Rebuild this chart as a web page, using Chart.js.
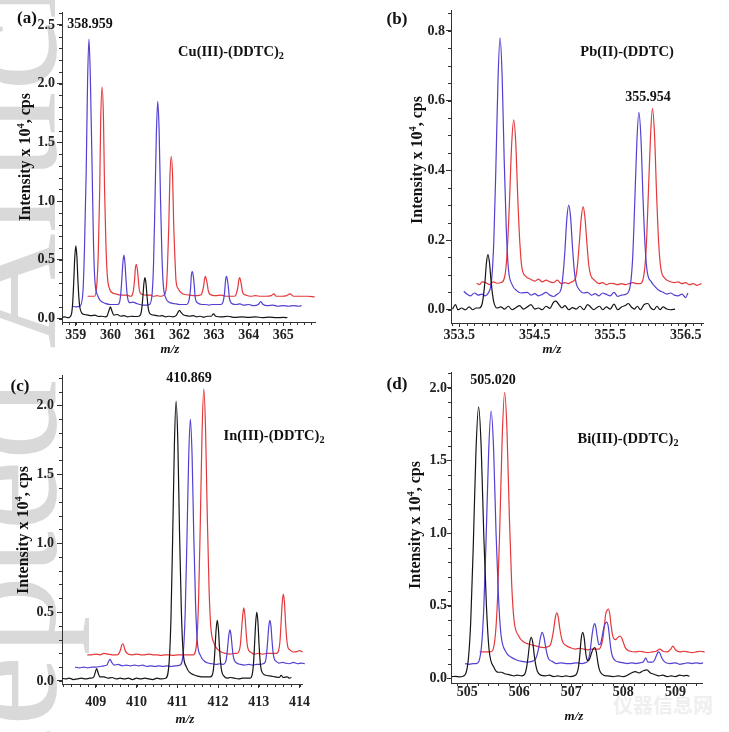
<!DOCTYPE html>
<html>
<head>
<meta charset="utf-8">
<script src="https://cdn.jsdelivr.net/npm/chart.js@4.4.1/dist/chart.umd.min.js"></script>
<style>
  body { margin: 0; background: #fff; }
  #page { position: relative; width: 729px; height: 732px; overflow: hidden; font-family: 'Liberation Serif', 'Times New Roman', serif; font-weight: bold; color: #111; }
  canvas { position: absolute; }
  .txt { position: absolute; transform: translate(-50%, -50%); white-space: nowrap; line-height: 1; }
  .tag { font-size: 17px; }
  .num { font-size: 14px; }
  .cmp { font-size: 14.5px; }
  .cmp sub { font-size: 0.7em; vertical-align: -0.3em; line-height: 0; }
  .ytitle { position: absolute; transform: translate(-50%, -50%) rotate(-90deg); white-space: nowrap; font-size: 16px; line-height: 1; }
  .ytitle sup { font-size: 0.65em; vertical-align: 0.55em; line-height: 0; }
  .xtitle { font-size: 13px; font-style: italic; }
  #wm { position: absolute; left: 0; top: 0; transform-origin: 0 0; transform: translate(-79px, 984px) rotate(-90deg); font-size: 160px; line-height: 1; color: #d9d9d9; font-weight: normal; white-space: nowrap; }
  #logo { position: absolute; left: 613px; top: 690px; font-family: 'Noto Sans CJK SC', sans-serif; font-size: 20px; color: #efefef; white-space: nowrap; }
</style>
</head>
<body>
<div id="page">
  <div id="wm">Accepted Article</div>
  <div id="logo">仪器信息网</div>

  <canvas id="chartA" width="364" height="362" style="left:0;top:0"></canvas>
  <canvas id="chartB" width="364" height="362" style="left:365px;top:0"></canvas>
  <canvas id="chartC" width="364" height="370" style="left:0;top:362px"></canvas>
  <canvas id="chartD" width="364" height="370" style="left:365px;top:362px"></canvas>

  <div class="txt tag" style="left:27px;top:17px">(a)</div>
  <div class="txt num" style="left:90px;top:24px">358.959</div>
  <div class="txt cmp" style="left:231px;top:51px">Cu(III)-(DDTC)<sub>2</sub></div>
  <div class="ytitle" style="left:25px;top:157px">Intensity x 10<sup>4</sup>, cps</div>
  <div class="txt xtitle" style="left:170px;top:348px">m/z</div>

  <div class="txt tag" style="left:397px;top:18px">(b)</div>
  <div class="txt cmp" style="left:627px;top:51px">Pb(II)-(DDTC)</div>
  <div class="txt num" style="left:648px;top:97px">355.954</div>
  <div class="ytitle" style="left:417px;top:160px">Intensity x 10<sup>4</sup>, cps</div>
  <div class="txt xtitle" style="left:552px;top:348px">m/z</div>

  <div class="txt tag" style="left:20px;top:385px">(c)</div>
  <div class="txt num" style="left:189px;top:378px">410.869</div>
  <div class="txt cmp" style="left:274px;top:435px">In(III)-(DDTC)<sub>2</sub></div>
  <div class="ytitle" style="left:23px;top:530px">Intensity x 10<sup>4</sup>, cps</div>
  <div class="txt xtitle" style="left:185px;top:718px">m/z</div>

  <div class="txt tag" style="left:397px;top:383px">(d)</div>
  <div class="txt num" style="left:493px;top:380px">505.020</div>
  <div class="txt cmp" style="left:628px;top:438px">Bi(III)-(DDTC)<sub>2</sub></div>
  <div class="ytitle" style="left:415px;top:525px">Intensity x 10<sup>4</sup>, cps</div>
  <div class="txt xtitle" style="left:574px;top:715px">m/z</div>
</div>

<script>
// spectra, [m/z, intensity x 10^4 cps]
const cuBlack = [[358.60,0.01],[358.68,0.015],[358.76,0.008],[358.82,0.012],[358.88,0.047],[358.91,0.138],[358.94,0.315],[358.97,0.522],[359.00,0.62],[359.03,0.53],[359.06,0.33],[359.09,0.17],[359.12,0.09],[359.18,0.045],[359.25,0.035],[359.35,0.03],[359.45,0.025],[359.55,0.03],[359.65,0.018],[359.75,0.02],[359.85,0.015],[359.90,0.02],[359.95,0.06],[360.00,0.10],[360.05,0.06],[360.10,0.03],[360.20,0.035],[360.30,0.02],[360.40,0.025],[360.50,0.015],[360.60,0.02],[360.70,0.018],[360.82,0.02],[360.88,0.04],[360.91,0.09],[360.94,0.185],[360.97,0.3],[361.00,0.35],[361.03,0.3],[361.06,0.19],[361.09,0.1],[361.12,0.055],[361.18,0.035],[361.30,0.028],[361.40,0.022],[361.50,0.025],[361.60,0.015],[361.70,0.02],[361.80,0.015],[361.90,0.025],[361.95,0.05],[362.00,0.07],[362.05,0.05],[362.12,0.03],[362.20,0.025],[362.30,0.02],[362.40,0.025],[362.50,0.015],[362.60,0.02],[362.70,0.012],[362.80,0.02],[362.92,0.02],[362.98,0.04],[363.05,0.02],[363.20,0.015],[363.40,0.02],[363.60,0.01],[363.80,0.015],[364.00,0.01],[364.20,0.015],[364.40,0.008],[364.60,0.012],[364.80,0.008],[365.00,0.01],[365.12,0.008]];
const cuBlue = [[358.90,0.105],[359.00,0.10],[359.13,0.11],[359.21,0.25],[359.25,0.59],[359.30,1.25],[359.34,2.02],[359.38,2.38],[359.42,2.05],[359.47,1.3],[359.51,0.66],[359.55,0.33],[359.64,0.19],[359.72,0.15],[359.85,0.13],[360.00,0.12],[360.12,0.12],[360.21,0.12],[360.27,0.145],[360.30,0.21],[360.33,0.33],[360.36,0.47],[360.39,0.54],[360.42,0.48],[360.45,0.34],[360.48,0.22],[360.51,0.16],[360.57,0.135],[360.65,0.14],[360.75,0.13],[360.85,0.12],[360.95,0.115],[361.05,0.115],[361.13,0.12],[361.21,0.22],[361.25,0.48],[361.29,0.99],[361.33,1.57],[361.37,1.85],[361.41,1.6],[361.45,1.02],[361.49,0.55],[361.53,0.29],[361.61,0.17],[361.70,0.14],[361.80,0.13],[361.90,0.125],[362.00,0.12],[362.10,0.12],[362.21,0.12],[362.26,0.14],[362.29,0.18],[362.32,0.26],[362.34,0.36],[362.37,0.40],[362.40,0.36],[362.43,0.27],[362.45,0.19],[362.48,0.15],[362.54,0.13],[362.65,0.12],[362.75,0.12],[362.85,0.115],[362.95,0.12],[363.05,0.12],[363.20,0.12],[363.25,0.135],[363.28,0.17],[363.31,0.24],[363.33,0.32],[363.36,0.36],[363.39,0.32],[363.42,0.25],[363.44,0.18],[363.47,0.145],[363.53,0.125],[363.65,0.12],[363.75,0.125],[363.85,0.115],[364.00,0.12],[364.15,0.11],[364.28,0.12],[364.35,0.145],[364.42,0.12],[364.55,0.11],[364.70,0.115],[364.85,0.105],[365.00,0.11],[365.15,0.105],[365.30,0.11],[365.45,0.105],[365.53,0.11]];
const cuRed = [[359.34,0.19],[359.45,0.19],[359.54,0.19],[359.61,0.3],[359.65,0.56],[359.69,1.08],[359.72,1.69],[359.76,1.97],[359.80,1.7],[359.83,1.12],[359.87,0.64],[359.91,0.37],[359.98,0.25],[360.06,0.22],[360.15,0.21],[360.30,0.2],[360.45,0.2],[360.59,0.19],[360.64,0.205],[360.67,0.25],[360.70,0.33],[360.72,0.42],[360.75,0.46],[360.78,0.42],[360.81,0.33],[360.83,0.26],[360.86,0.22],[360.93,0.205],[361.05,0.2],[361.15,0.2],[361.25,0.19],[361.35,0.195],[361.45,0.19],[361.55,0.2],[361.62,0.27],[361.65,0.43],[361.69,0.79],[361.72,1.19],[361.76,1.38],[361.80,1.21],[361.83,0.82],[361.87,0.5],[361.90,0.32],[361.97,0.25],[362.05,0.22],[362.15,0.205],[362.30,0.2],[362.45,0.195],[362.59,0.2],[362.64,0.21],[362.67,0.24],[362.70,0.28],[362.72,0.33],[362.75,0.36],[362.78,0.33],[362.81,0.28],[362.83,0.24],[362.86,0.215],[362.93,0.2],[363.05,0.195],[363.20,0.2],[363.35,0.19],[363.58,0.19],[363.63,0.2],[363.66,0.23],[363.69,0.27],[363.71,0.32],[363.74,0.35],[363.77,0.32],[363.80,0.27],[363.82,0.23],[363.85,0.21],[363.92,0.2],[364.05,0.19],[364.20,0.195],[364.35,0.19],[364.50,0.19],[364.65,0.195],[364.73,0.21],[364.80,0.19],[364.95,0.19],[365.10,0.195],[365.20,0.21],[365.30,0.19],[365.50,0.19],[365.70,0.19],[365.91,0.185]];

const pbBlack = [[353.41,0.002],[353.45,0.015],[353.48,0.0],[353.53,0.005],[353.58,0.0],[353.63,0.008],[353.68,0.0],[353.72,0.005],[353.76,0.005],[353.80,0.015],[353.82,0.04],[353.84,0.08],[353.86,0.135],[353.88,0.158],[353.90,0.135],[353.92,0.085],[353.94,0.045],[353.96,0.02],[354.00,0.005],[354.05,0.008],[354.10,0.002],[354.15,0.01],[354.20,0.0],[354.25,0.006],[354.30,0.012],[354.35,0.002],[354.40,0.008],[354.45,0.015],[354.50,0.002],[354.55,0.005],[354.60,0.0],[354.65,0.01],[354.70,0.004],[354.75,0.022],[354.78,0.025],[354.82,0.015],[354.86,0.005],[354.90,0.012],[354.95,0.0],[355.00,0.006],[355.05,0.002],[355.10,0.01],[355.15,0.0],[355.20,0.015],[355.24,0.008],[355.28,0.0],[355.32,0.006],[355.36,0.01],[355.40,0.0],[355.45,0.008],[355.50,0.002],[355.55,0.016],[355.60,0.0],[355.65,0.008],[355.70,0.012],[355.74,0.018],[355.78,0.008],[355.82,0.002],[355.86,0.01],[355.90,0.0],[355.95,0.015],[356.00,0.018],[356.04,0.005],[356.08,0.0],[356.12,0.01],[356.16,0.0],[356.20,0.008],[356.25,0.002],[356.30,0.0],[356.36,0.002]];
const pbBlue = [[353.56,0.053],[353.60,0.045],[353.65,0.04],[353.70,0.048],[353.75,0.042],[353.80,0.045],[353.84,0.04],[353.875,0.045],[353.93,0.09],[353.958,0.2],[353.985,0.41],[354.013,0.66],[354.04,0.78],[354.068,0.67],[354.095,0.43],[354.123,0.23],[354.15,0.12],[354.205,0.07],[354.26,0.055],[354.32,0.048],[354.40,0.05],[354.45,0.042],[354.50,0.046],[354.55,0.04],[354.60,0.044],[354.65,0.05],[354.70,0.042],[354.75,0.038],[354.80,0.045],[354.85,0.06],[354.875,0.1],[354.90,0.17],[354.925,0.26],[354.95,0.30],[354.975,0.265],[355.00,0.18],[355.025,0.11],[355.05,0.075],[355.10,0.055],[355.15,0.048],[355.20,0.05],[355.25,0.042],[355.30,0.046],[355.35,0.04],[355.40,0.048],[355.45,0.044],[355.50,0.04],[355.55,0.05],[355.60,0.038],[355.65,0.042],[355.715,0.045],[355.77,0.075],[355.798,0.15],[355.825,0.305],[355.853,0.48],[355.88,0.566],[355.908,0.49],[355.935,0.32],[355.963,0.18],[355.99,0.11],[356.045,0.08],[356.10,0.065],[356.15,0.055],[356.20,0.05],[356.25,0.045],[356.30,0.048],[356.35,0.042],[356.40,0.04],[356.45,0.045],[356.50,0.035],[356.53,0.048]];
const pbRed = [[353.73,0.076],[353.77,0.072],[353.80,0.08],[353.85,0.078],[353.90,0.072],[353.95,0.08],[354.00,0.076],[354.055,0.078],[354.11,0.105],[354.138,0.18],[354.165,0.31],[354.193,0.47],[354.22,0.545],[354.248,0.48],[354.275,0.32],[354.303,0.19],[354.33,0.12],[354.385,0.095],[354.44,0.088],[354.50,0.082],[354.55,0.088],[354.60,0.08],[354.65,0.085],[354.70,0.08],[354.75,0.078],[354.80,0.085],[354.85,0.075],[354.90,0.078],[354.94,0.075],[354.99,0.08],[355.04,0.09],[355.065,0.125],[355.09,0.19],[355.115,0.26],[355.14,0.296],[355.165,0.265],[355.19,0.195],[355.215,0.13],[355.24,0.1],[355.29,0.085],[355.35,0.075],[355.40,0.078],[355.45,0.072],[355.50,0.076],[355.55,0.075],[355.60,0.072],[355.65,0.075],[355.70,0.072],[355.75,0.075],[355.80,0.078],[355.85,0.075],[355.895,0.075],[355.95,0.105],[355.978,0.18],[356.005,0.33],[356.033,0.49],[356.06,0.578],[356.088,0.5],[356.115,0.33],[356.143,0.19],[356.17,0.12],[356.225,0.09],[356.28,0.082],[356.35,0.078],[356.40,0.08],[356.45,0.075],[356.50,0.078],[356.55,0.072],[356.60,0.075],[356.65,0.07],[356.71,0.075]];

const inBlack = [[408.17,0.02],[408.25,0.015],[408.35,0.02],[408.45,0.01],[408.55,0.015],[408.65,0.02],[408.75,0.015],[408.85,0.02],[408.94,0.025],[408.98,0.055],[409.02,0.09],[409.06,0.055],[409.10,0.03],[409.20,0.03],[409.30,0.02],[409.40,0.025],[409.50,0.015],[409.60,0.02],[409.70,0.015],[409.80,0.02],[409.90,0.01],[410.00,0.02],[410.10,0.015],[410.20,0.02],[410.30,0.015],[410.40,0.01],[410.50,0.02],[410.60,0.015],[410.715,0.02],[410.80,0.14],[410.843,0.44],[410.885,1.03],[410.928,1.71],[410.97,2.03],[411.013,1.73],[411.055,1.07],[411.098,0.52],[411.14,0.22],[411.225,0.1],[411.31,0.06],[411.40,0.045],[411.50,0.035],[411.60,0.03],[411.70,0.03],[411.815,0.03],[411.87,0.055],[411.898,0.115],[411.925,0.235],[411.953,0.375],[411.98,0.44],[412.008,0.38],[412.035,0.24],[412.063,0.13],[412.09,0.07],[412.145,0.035],[412.22,0.02],[412.30,0.025],[412.40,0.02],[412.50,0.015],[412.60,0.02],[412.70,0.02],[412.785,0.02],[412.84,0.05],[412.868,0.12],[412.895,0.26],[412.923,0.42],[412.95,0.5],[412.978,0.43],[413.005,0.27],[413.033,0.14],[413.06,0.08],[413.115,0.05],[413.20,0.04],[413.30,0.035],[413.40,0.03],[413.50,0.025],[413.55,0.04],[413.60,0.025],[413.70,0.03],[413.75,0.02],[413.80,0.025]];
const inBlue = [[408.49,0.10],[408.60,0.095],[408.70,0.1],[408.80,0.095],[408.90,0.1],[409.00,0.1],[409.10,0.105],[409.20,0.11],[409.27,0.115],[409.31,0.14],[409.35,0.157],[409.39,0.135],[409.45,0.115],[409.55,0.12],[409.65,0.11],[409.75,0.115],[409.85,0.11],[409.95,0.115],[410.05,0.11],[410.15,0.115],[410.25,0.105],[410.35,0.11],[410.45,0.105],[410.55,0.11],[410.65,0.105],[410.75,0.11],[410.85,0.105],[410.95,0.11],[411.065,0.115],[411.15,0.22],[411.193,0.49],[411.235,1.01],[411.278,1.61],[411.32,1.9],[411.363,1.63],[411.405,1.04],[411.448,0.56],[411.49,0.29],[411.575,0.18],[411.66,0.145],[411.75,0.13],[411.85,0.125],[411.95,0.12],[412.05,0.125],[412.125,0.12],[412.18,0.135],[412.208,0.17],[412.235,0.245],[412.263,0.33],[412.29,0.37],[412.318,0.335],[412.345,0.25],[412.373,0.18],[412.40,0.15],[412.455,0.13],[412.55,0.12],[412.65,0.115],[412.75,0.12],[412.85,0.115],[412.95,0.12],[413.02,0.12],[413.105,0.125],[413.16,0.14],[413.188,0.19],[413.215,0.28],[413.243,0.39],[413.27,0.44],[413.298,0.4],[413.325,0.29],[413.353,0.2],[413.38,0.16],[413.435,0.14],[413.50,0.13],[413.58,0.135],[413.65,0.13],[413.75,0.125],[413.85,0.135],[413.95,0.125],[414.05,0.13],[414.13,0.125]];
const inRed = [[408.79,0.19],[408.90,0.19],[409.00,0.195],[409.10,0.19],[409.20,0.2],[409.30,0.195],[409.40,0.19],[409.525,0.19],[409.57,0.2],[409.61,0.23],[409.635,0.26],[409.66,0.27],[409.685,0.26],[409.71,0.23],[409.75,0.205],[409.80,0.195],[409.90,0.19],[410.00,0.195],[410.10,0.19],[410.20,0.19],[410.30,0.195],[410.40,0.19],[410.50,0.19],[410.60,0.185],[410.70,0.19],[410.80,0.19],[410.90,0.185],[411.00,0.19],[411.10,0.19],[411.20,0.19],[411.30,0.19],[411.395,0.19],[411.48,0.3],[411.523,0.6],[411.565,1.16],[411.608,1.81],[411.65,2.12],[411.693,1.83],[411.735,1.2],[411.778,0.68],[411.82,0.4],[411.905,0.27],[411.99,0.23],[412.08,0.21],[412.18,0.2],[412.30,0.195],[412.40,0.2],[412.465,0.2],[412.52,0.22],[412.548,0.265],[412.575,0.365],[412.603,0.47],[412.63,0.53],[412.658,0.48],[412.685,0.37],[412.713,0.27],[412.74,0.23],[412.795,0.21],[412.90,0.195],[413.00,0.2],[413.10,0.195],[413.20,0.2],[413.30,0.2],[413.435,0.2],[413.49,0.225],[413.518,0.285],[413.545,0.415],[413.573,0.56],[413.60,0.63],[413.628,0.575],[413.655,0.43],[413.683,0.31],[413.71,0.25],[413.765,0.225],[413.85,0.21],[413.95,0.215],[414.00,0.22],[414.08,0.21],[414.15,0.225],[414.22,0.21],[414.30,0.215],[414.38,0.205],[414.43,0.23],[414.48,0.21]];

const biBlack = [[504.71,0.01],[504.78,0.012],[504.85,0.008],[504.92,0.012],[505.02,0.12],[505.07,0.4],[505.12,0.94],[505.17,1.57],[505.22,1.87],[505.27,1.59],[505.32,0.98],[505.37,0.5],[505.42,0.2],[505.52,0.07],[505.60,0.04],[505.66,0.04],[505.72,0.03],[505.78,0.025],[505.84,0.02],[505.90,0.015],[505.96,0.02],[506.05,0.015],[506.11,0.03],[506.14,0.07],[506.17,0.145],[506.20,0.24],[506.23,0.28],[506.26,0.245],[506.29,0.155],[506.32,0.085],[506.35,0.045],[506.41,0.02],[506.50,0.015],[506.58,0.02],[506.66,0.01],[506.74,0.015],[506.82,0.01],[506.90,0.015],[506.98,0.01],[507.05,0.015],[507.11,0.035],[507.14,0.08],[507.165,0.165],[507.19,0.27],[507.22,0.315],[507.25,0.27],[507.275,0.18],[507.30,0.13],[507.33,0.12],[507.36,0.14],[507.39,0.175],[507.42,0.2],[507.45,0.21],[507.48,0.18],[507.505,0.12],[507.53,0.07],[507.56,0.04],[507.62,0.02],[507.70,0.015],[507.80,0.01],[507.90,0.015],[508.00,0.01],[508.08,0.02],[508.15,0.035],[508.23,0.045],[508.30,0.035],[508.38,0.05],[508.45,0.057],[508.52,0.035],[508.60,0.025],[508.68,0.015],[508.76,0.02],[508.84,0.01],[508.92,0.015],[509.00,0.01],[509.08,0.02],[509.15,0.015],[509.22,0.018],[509.27,0.012]];
const biBlue = [[504.96,0.10],[505.04,0.095],[505.12,0.1],[505.175,0.1],[505.27,0.2],[505.318,0.47],[505.365,0.97],[505.413,1.56],[505.46,1.84],[505.508,1.58],[505.555,1.0],[505.603,0.55],[505.65,0.3],[505.745,0.18],[505.84,0.145],[505.95,0.125],[506.05,0.115],[506.15,0.11],[506.245,0.115],[506.31,0.13],[506.343,0.16],[506.375,0.21],[506.408,0.28],[506.44,0.315],[506.473,0.285],[506.505,0.22],[506.538,0.16],[506.57,0.13],[506.635,0.115],[506.72,0.1],[506.80,0.105],[506.90,0.1],[507.00,0.1],[507.10,0.105],[507.20,0.1],[507.26,0.105],[507.32,0.12],[507.35,0.16],[507.37,0.21],[507.40,0.3],[507.425,0.355],[507.45,0.375],[507.475,0.345],[507.50,0.28],[507.53,0.23],[507.56,0.235],[507.59,0.28],[507.62,0.34],[507.65,0.375],[507.68,0.385],[507.71,0.355],[507.735,0.28],[507.76,0.2],[507.79,0.15],[507.845,0.12],[507.92,0.11],[508.00,0.105],[508.08,0.1],[508.16,0.105],[508.24,0.1],[508.32,0.105],[508.38,0.11],[508.43,0.14],[508.47,0.11],[508.56,0.11],[508.60,0.125],[508.635,0.155],[508.66,0.175],[508.68,0.18],[508.705,0.17],[508.73,0.145],[508.77,0.12],[508.82,0.105],[508.90,0.1],[509.00,0.105],[509.08,0.095],[509.16,0.1],[509.24,0.105],[509.32,0.1],[509.40,0.105],[509.48,0.1],[509.53,0.105]];
const biRed = [[505.24,0.18],[505.32,0.18],[505.40,0.18],[505.45,0.18],[505.54,0.29],[505.585,0.56],[505.63,1.08],[505.675,1.68],[505.72,1.97],[505.765,1.71],[505.81,1.12],[505.855,0.65],[505.90,0.4],[505.99,0.29],[506.08,0.25],[506.18,0.235],[506.28,0.225],[506.38,0.215],[506.48,0.21],[506.54,0.215],[506.60,0.23],[506.63,0.27],[506.66,0.33],[506.69,0.41],[506.72,0.45],[506.75,0.42],[506.78,0.34],[506.81,0.28],[506.84,0.245],[506.90,0.225],[506.98,0.21],[507.08,0.2],[507.16,0.205],[507.24,0.2],[507.32,0.195],[507.40,0.2],[507.48,0.2],[507.53,0.2],[507.58,0.23],[507.61,0.28],[507.635,0.36],[507.66,0.44],[507.685,0.465],[507.71,0.476],[507.74,0.44],[507.765,0.36],[507.79,0.3],[507.82,0.27],[507.85,0.265],[507.88,0.275],[507.91,0.285],[507.94,0.29],[507.97,0.275],[508.00,0.245],[508.03,0.215],[508.07,0.195],[508.13,0.185],[508.23,0.18],[508.31,0.185],[508.39,0.18],[508.47,0.175],[508.55,0.18],[508.63,0.185],[508.70,0.2],[508.76,0.185],[508.84,0.18],[508.91,0.2],[508.95,0.22],[509.00,0.195],[509.08,0.18],[509.16,0.185],[509.24,0.18],[509.32,0.175],[509.40,0.18],[509.48,0.185],[509.56,0.18],[509.64,0.175],[509.70,0.19],[509.75,0.18],[509.80,0.178]];

// axis ticks
const cuXTicks = [359, 360, 361, 362, 363, 364, 365];
const cuYTicks = [0, 0.5, 1.0, 1.5, 2.0, 2.5];
const pbXTicks = [353.5, 354.5, 355.5, 356.5];
const pbYTicks = [0, 0.2, 0.4, 0.6, 0.8];
const inXTicks = [409, 410, 411, 412, 413, 414];
const inYTicks = [0, 0.5, 1.0, 1.5, 2.0];
const biXTicks = [505, 506, 507, 508, 509];
const biYTicks = [0, 0.5, 1.0, 1.5, 2.0];

const BLACK = '#151515';
const BLUE = '#5140d2';
const RED = '#e5383b';
const AXIS = '#333';
const tickFont = { family: "'Liberation Serif', 'Times New Roman', serif", size: 14, weight: 'bold' };

// small unlabelled ticks between the labelled ones
const minorTicks = {
    id: 'minorTicks',
    afterDraw(chart, args, opts) {
        const { ctx, scales: { x, y } } = chart;
        ctx.save();
        ctx.strokeStyle = AXIS;
        ctx.lineWidth = 1;
        ctx.beginPath();
        for (let i = Math.ceil(x.min / opts.xStep - 1e-6); i * opts.xStep <= x.max + 1e-6; i++) {
            const px = Math.round(x.getPixelForValue(i * opts.xStep)) + 0.5;
            ctx.moveTo(px, x.top);
            ctx.lineTo(px, x.top + 3);
        }
        for (let i = Math.ceil(y.min / opts.yStep - 1e-6); i * opts.yStep <= y.max + 1e-6; i++) {
            const py = Math.round(y.getPixelForValue(i * opts.yStep)) + 0.5;
            ctx.moveTo(y.right, py);
            ctx.lineTo(y.right - 3, py);
        }
        ctx.stroke();
        ctx.restore();
    }
};

function makePanel(id, traces, p) {
    const datasets = traces.map(([data, color]) => ({
        data: data,
        borderColor: color,
        borderWidth: 1.2,
        pointRadius: 0,
        cubicInterpolationMode: 'monotone',
        clip: false
    }));

    return new Chart(document.getElementById(id), {
        type: 'line',
        data: { datasets: datasets },
        plugins: [minorTicks],
        options: {
            responsive: false,
            animation: false,
            devicePixelRatio: 1,
            layout: { padding: { left: 0, top: p.top, right: p.right, bottom: 0 } },
            plugins: {
                legend: { display: false },
                tooltip: { enabled: false },
                minorTicks: { xStep: p.xMinor, yStep: p.yMinor }
            },
            scales: {
                x: {
                    type: 'linear',
                    min: p.xRange[0],
                    max: p.xRange[1],
                    border: { color: AXIS, width: 1 },
                    grid: { drawOnChartArea: false, tickLength: p.xTick[0], color: AXIS },
                    ticks: {
                        padding: p.xTick[1],
                        font: tickFont,
                        color: '#222',
                        maxRotation: 0,
                        autoSkip: false,
                        callback: v => v.toFixed(p.xDigits)
                    },
                    afterBuildTicks: s => { s.ticks = p.xTicks.map(v => ({ value: v })); },
                    afterFit: s => { s.height = p.xH; }
                },
                y: {
                    min: p.yRange[0],
                    max: p.yRange[1],
                    border: { color: AXIS, width: 1 },
                    grid: { drawOnChartArea: false, tickLength: p.yTick[0], color: AXIS },
                    ticks: {
                        padding: p.yTick[1],
                        font: tickFont,
                        color: '#222',
                        callback: v => v.toFixed(1)
                    },
                    afterBuildTicks: s => { s.ticks = p.yTicks.map(v => ({ value: v })); },
                    afterFit: s => { s.width = p.yW; }
                }
            }
        }
    });
}

makePanel('chartA', [[cuBlack, BLACK], [cuBlue, BLUE], [cuRed, RED]], {
    xRange: [358.6, 365.92], yRange: [-0.029, 2.61], xTicks: cuXTicks, yTicks: cuYTicks, xDigits: 0,
    xMinor: 0.2, yMinor: 0.1, top: 12, right: 49, yW: 62, xH: 40, xTick: [4, 1], yTick: [5, 2]
});
makePanel('chartB', [[pbBlack, BLACK], [pbBlue, BLUE], [pbRed, RED]], {
    xRange: [353.39, 356.73], yRange: [-0.038, 0.86], xTicks: pbXTicks, yTicks: pbYTicks, xDigits: 1,
    xMinor: 0.1, yMinor: 0.05, top: 10, right: 26, yW: 86, xH: 39, xTick: [4, 0], yTick: [5, 1]
});
makePanel('chartC', [[inBlack, BLACK], [inBlue, BLUE], [inRed, RED]], {
    xRange: [408.17, 414.06], yRange: [-0.022, 2.22], xTicks: inXTicks, yTicks: inYTicks, xDigits: 0,
    xMinor: 0.2, yMinor: 0.1, top: 13, right: 62, yW: 62, xH: 48, xTick: [4, 6], yTick: [5, 3]
});
makePanel('chartD', [[biBlack, BLACK], [biBlue, BLUE], [biRed, RED]], {
    xRange: [504.69, 509.51], yRange: [-0.034, 2.11], xTicks: biXTicks, yTicks: biYTicks, xDigits: 0,
    xMinor: 0.2, yMinor: 0.1, top: 10, right: 27, yW: 86, xH: 49, xTick: [4, -3], yTick: [4, 0]
});
</script>
</body>
</html>
